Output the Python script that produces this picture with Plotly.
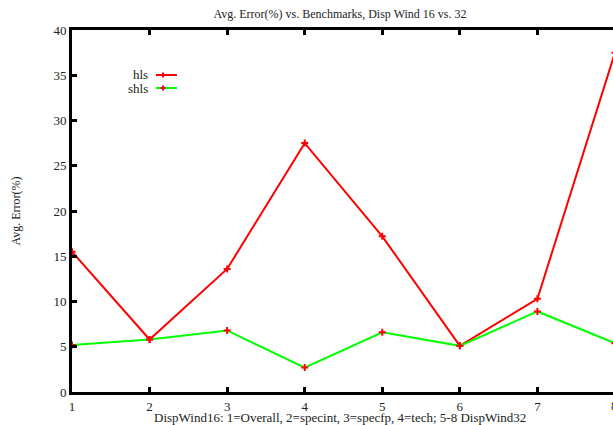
import plotly.graph_objects as go

# ---- data ----
x_vals = [1, 2, 3, 4, 5, 6, 7, 8]
hls = [15.5, 5.8, 13.6, 27.5, 17.2, 5.1, 10.3, 37.5]
shls = [5.2, 5.8, 6.8, 2.7, 6.6, 5.1, 8.9, 5.4]
series_names = ["hls", "shls"]
series_colors = ["#ff0000", "#00ff00"]
marker_color = "#ff0000"
y_ticks = [0, 5, 10, 15, 20, 25, 30, 35, 40]
x_ticks = [1, 2, 3, 4, 5, 6, 7, 8]

title = "Avg. Error(%) vs. Benchmarks, Disp Wind 16 vs. 32"
x_title = "DispWind16: 1=Overall, 2=specint, 3=specfp, 4=tech; 5-8 DispWind32"
y_title = "Avg. Error(%)"

W, H = 613, 425
ML, MR, MT, MB = 72, 0, 30, 33
px_per_unit = 77.57
x_end = 1 + (W - ML - MR) / px_per_unit

FONT = "Liberation Serif, Times New Roman, serif"

fig = go.Figure()
for name, vals, col in zip(series_names, [hls, shls], series_colors):
    fig.add_trace(go.Scatter(
        x=x_vals, y=vals, name=name, mode="lines+markers",
        line=dict(color=col, width=2),
        marker=dict(symbol="cross-thin", size=5, color=marker_color,
                    line=dict(color=marker_color, width=2)),
        cliponaxis=True, showlegend=False,
    ))

fig.update_layout(
    width=W, height=H,
    margin=dict(l=ML, r=MR, t=MT, b=MB),
    paper_bgcolor="white", plot_bgcolor="white",
    font=dict(family=FONT, size=13, color="#222222"),
    title=dict(text=title, x=(ML + 268) / W, xanchor="center",
               y=1 - 14 / H, yanchor="middle",
               font=dict(family=FONT, size=12, color="#222222")),
    xaxis=dict(range=[1, x_end], tickvals=x_ticks, ticktext=[str(t) for t in x_ticks],
               ticks="inside", ticklen=5, tickwidth=3, tickcolor="black",
               showline=True, linewidth=3, linecolor="black", mirror="ticks",
               showgrid=False, zeroline=False,
               tickfont=dict(family=FONT, size=13)),
    yaxis=dict(range=[0, 40], tickvals=y_ticks,
               ticks="inside", ticklen=5, tickwidth=3, tickcolor="black",
               showline=True, linewidth=3, linecolor="black",
               showgrid=False, zeroline=False,
               title=dict(text=y_title, standoff=31, font=dict(family=FONT, size=12)),
               tickfont=dict(family=FONT, size=13)),
    yaxis2=dict(range=[0, 40], tickvals=y_ticks, overlaying="y", side="right",
                ticks="inside", ticklen=5, tickwidth=3, tickcolor="black",
                showticklabels=False, showline=False, showgrid=False, zeroline=False),
)

# x-axis title placed like gnuplot's (tight under the tick labels)
fig.add_annotation(xref="paper", yref="paper", x=(340 - ML) / (W - ML), y=0,
                   yshift=-25, text=x_title, showarrow=False,
                   xanchor="center", yanchor="middle",
                   font=dict(family=FONT, size=13, color="#222222"))

# partially visible last x tick label (clipped by the page edge)
fig.add_annotation(xref="paper", yref="paper",
                   x=(x_ticks[-1] - 1) * px_per_unit / (W - ML - MR), y=0,
                   text=str(x_ticks[-1]), showarrow=False, yshift=-13,
                   xanchor="center", yanchor="middle",
                   font=dict(family=FONT, size=13, color="#222222"))

# manual gnuplot-style legend: text on the left, sample on the right
leg_y = [75, 88]
for name, col, yy in zip(series_names, series_colors, leg_y):
    fig.add_annotation(xref="paper", yref="paper",
                       x=(150 - ML) / (W - ML), y=1 - (yy - MT) / (H - MT - MB),
                       text=name, showarrow=False, xanchor="right", yanchor="middle",
                       font=dict(family=FONT, size=13, color="#222222"))
    fig.add_shape(type="line", xref="paper", yref="paper",
                  x0=(156 - ML) / (W - ML), x1=(177 - ML) / (W - ML),
                  y0=1 - (yy - MT) / (H - MT - MB), y1=1 - (yy - MT) / (H - MT - MB),
                  line=dict(color=col, width=2))
    cx = (163 - ML) / (W - ML)
    cy = 1 - (yy - MT) / (H - MT - MB)
    dx = 2.5 / (W - ML)
    dy = 2.5 / (H - MT - MB)
    fig.add_shape(type="line", xref="paper", yref="paper",
                  x0=cx - dx, x1=cx + dx, y0=cy, y1=cy,
                  line=dict(color=marker_color, width=2))
    fig.add_shape(type="line", xref="paper", yref="paper",
                  x0=cx, x1=cx, y0=cy - dy, y1=cy + dy,
                  line=dict(color=marker_color, width=2))

fig.write_html("out.html")
